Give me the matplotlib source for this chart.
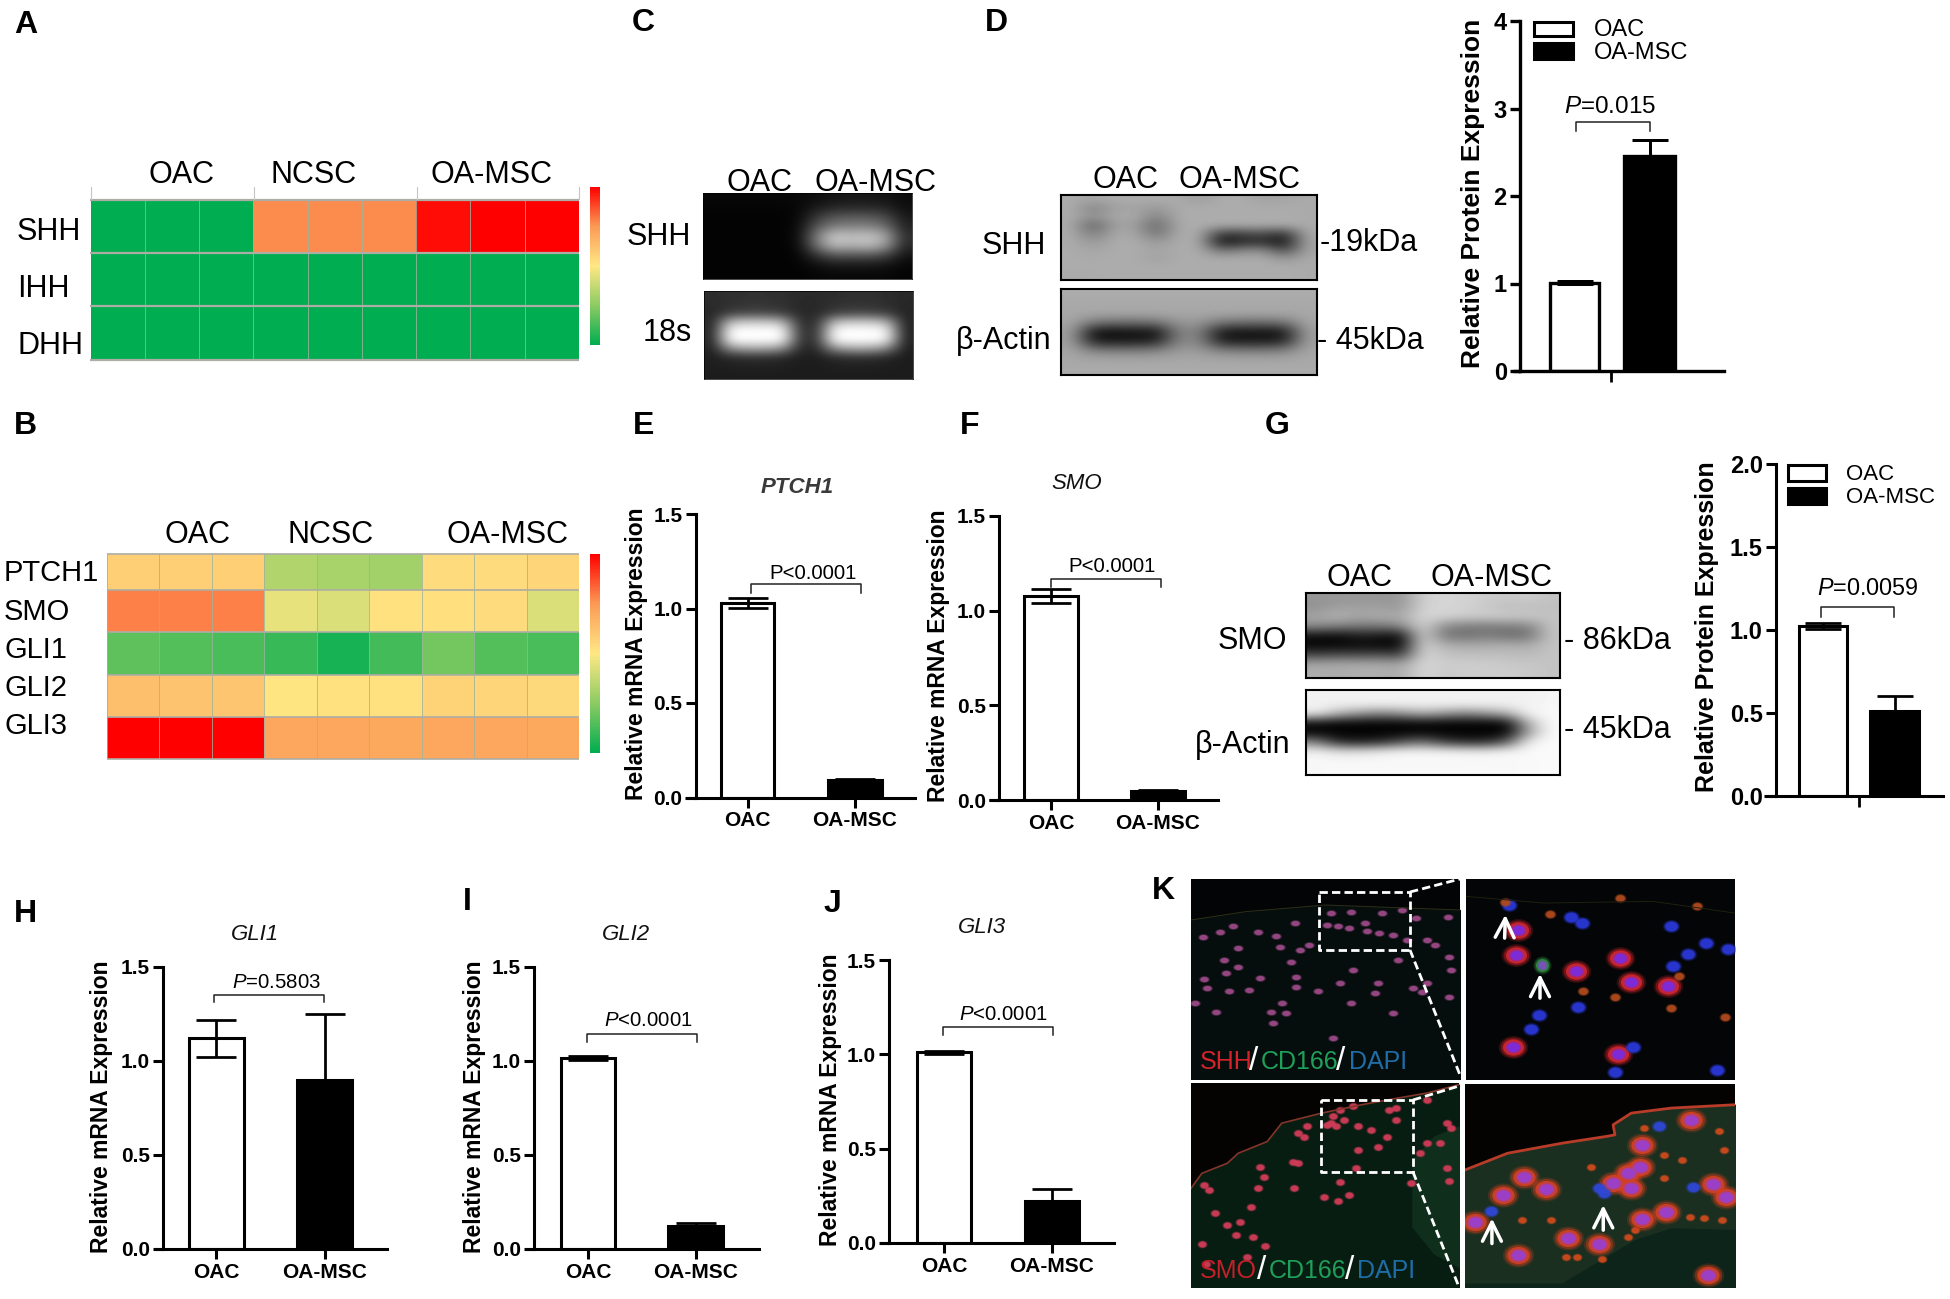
import numpy as np
import matplotlib
matplotlib.use("Agg")
import matplotlib.pyplot as plt
from matplotlib.colors import LinearSegmentedColormap
from matplotlib.markers import MarkerStyle
from matplotlib.transforms import Affine2D

plt.rcParams['font.family'] = ['Liberation Sans', 'DejaVu Sans']
plt.rcParams['mathtext.fontset'] = 'custom'
plt.rcParams['mathtext.it'] = 'Liberation Sans:italic'
plt.rcParams['mathtext.rm'] = 'Liberation Sans'

W = 1950
H = 1299

# ---- heatmaps
groups = ["OAC", "NCSC", "OA-MSC"]
genes_a = ["SHH", "IHH", "DHH"]
heat_a = [[0, 0, 0, 0.77, 0.77, 0.77, 0.98, 1, 1],
          [0, 0, 0, 0, 0, 0, 0, 0, 0],
          [0, 0, 0, 0, 0, 0, 0, 0, 0]]
genes_b = ["PTCH1", "SMO", "GLI1", "GLI2", "GLI3"]
heat_b = [[.58, .58, .58, .33, .31, .30, .54, .54, .56],
          [.79, .79, .79, .45, .42, .52, .53, .54, .42],
          [.17, .15, .13, .10, .04, .12, .21, .15, .13],
          [.63, .62, .61, .51, .52, .52, .57, .56, .55],
          [1, 1, 1, .71, .71, .70, .71, .71, .70]]

# ---- bar charts (OAC, OA-MSC)
vals_d = [1.01, 2.46]
errs_d = [0.02, 0.18]
vals_e = [1.03, 0.093]
errs_e = [0.027, 0.003]
vals_f = [1.077, 0.048]
errs_f = [0.035, 0.004]
vals_g = [1.024, 0.514]
errs_g = [0.02, 0.09]
vals_h = [1.12, 0.899]
errs_h = [0.10, 0.353]
vals_i = [1.017, 0.12]
errs_i = [0.012, 0.018]
vals_j = [1.01, 0.221]
errs_j = [0.006, 0.064]
bar_names = ["OAC", "OA-MSC"]

gel_c_shh = [[8, 8, 8, 8, 8, 8, 14, 20, 22, 22, 20, 12],
             [5, 5, 5, 5, 5, 8, 25, 38, 40, 40, 35, 15],
             [3, 3, 3, 3, 3, 8, 55, 85, 90, 90, 75, 25],
             [3, 3, 3, 3, 3, 10, 85, 125, 130, 130, 110, 35],
             [3, 3, 3, 3, 3, 12, 120, 205, 190, 200, 170, 45],
             [3, 3, 3, 3, 3, 10, 110, 190, 175, 190, 155, 40],
             [3, 3, 3, 3, 3, 6, 50, 85, 85, 85, 70, 20],
             [3, 3, 3, 3, 3, 4, 15, 25, 25, 25, 20, 8],
             [3, 3, 3, 3, 3, 3, 6, 8, 8, 8, 8, 4]]
gel_c_18s = [[45, 48, 50, 50, 48, 42, 42, 45, 48, 48, 45, 40],
             [42, 48, 52, 52, 48, 40, 40, 48, 50, 50, 46, 38],
             [38, 62, 70, 70, 62, 40, 40, 62, 70, 70, 60, 36],
             [36, 190, 200, 200, 185, 45, 45, 190, 200, 200, 180, 34],
             [34, 255, 255, 255, 255, 50, 50, 255, 255, 255, 250, 32],
             [34, 255, 255, 255, 255, 50, 50, 255, 255, 255, 250, 32],
             [32, 150, 170, 170, 150, 40, 40, 150, 170, 170, 140, 30],
             [30, 42, 48, 48, 42, 30, 30, 42, 48, 48, 40, 28],
             [30, 32, 34, 34, 32, 28, 28, 32, 32, 32, 30, 28],
             [28, 28, 28, 28, 28, 28, 28, 28, 28, 28, 28, 28]]
gel_d_shh = [[172, 165, 172, 172, 172, 172, 155, 172, 172, 160, 165, 170],
             [172, 130, 160, 165, 150, 172, 172, 172, 172, 172, 172, 170],
             [172, 145, 170, 170, 130, 172, 172, 172, 172, 172, 172, 170],
             [172, 95, 160, 160, 100, 172, 172, 172, 172, 172, 172, 170],
             [172, 120, 168, 168, 110, 172, 172, 60, 70, 80, 50, 170],
             [172, 150, 172, 172, 150, 172, 172, 15, 40, 45, 15, 165],
             [172, 165, 172, 172, 165, 172, 172, 110, 135, 140, 70, 165],
             [172, 170, 172, 172, 160, 172, 172, 172, 172, 172, 150, 170],
             [172, 172, 172, 172, 172, 172, 172, 172, 172, 172, 172, 170],
             [170, 170, 172, 172, 172, 172, 172, 172, 172, 172, 172, 170]]
gel_d_act = [[172, 172, 172, 172, 172, 172, 172, 172, 172, 172, 172, 172],
             [168, 168, 168, 168, 168, 168, 168, 168, 168, 168, 168, 168],
             [168, 168, 168, 168, 168, 168, 168, 168, 168, 168, 168, 168],
             [165, 120, 110, 110, 115, 150, 150, 118, 110, 110, 115, 165],
             [160, 15, 10, 15, 15, 130, 130, 20, 15, 15, 20, 160],
             [160, 35, 30, 30, 40, 135, 135, 35, 30, 30, 40, 160],
             [165, 135, 130, 130, 135, 155, 155, 135, 130, 130, 135, 165],
             [168, 168, 168, 168, 168, 168, 168, 168, 168, 168, 168, 168],
             [170, 170, 170, 170, 170, 170, 170, 170, 170, 170, 170, 170]]
gel_g_smo = [[150, 150, 150, 150, 150, 205, 215, 210, 205, 200, 205, 195],
             [145, 160, 160, 160, 150, 210, 215, 210, 200, 190, 190, 190],
             [165, 180, 165, 175, 170, 215, 210, 205, 205, 205, 200, 195],
             [140, 130, 120, 120, 135, 215, 140, 125, 120, 125, 130, 195],
             [15, 10, 30, 25, 10, 215, 120, 110, 125, 110, 110, 195],
             [5, 5, 10, 5, 5, 215, 175, 170, 170, 175, 170, 195],
             [65, 70, 70, 75, 60, 215, 195, 190, 190, 190, 185, 195],
             [165, 170, 170, 170, 165, 215, 205, 205, 205, 200, 200, 195],
             [175, 170, 175, 175, 170, 215, 200, 205, 205, 205, 200, 195]]
gel_g_act = [[240, 240, 240, 240, 240, 240, 240, 240, 240, 240, 240, 245],
             [242, 242, 242, 242, 242, 242, 242, 242, 242, 242, 242, 245],
             [235, 180, 150, 130, 145, 170, 150, 130, 150, 175, 245, 248],
             [10, 3, 3, 3, 3, 5, 3, 3, 3, 3, 180, 250],
             [5, 3, 3, 3, 3, 8, 3, 3, 3, 3, 160, 250],
             [130, 40, 30, 40, 80, 110, 60, 40, 40, 90, 240, 250],
             [240, 225, 225, 235, 245, 245, 245, 240, 240, 245, 250, 250],
             [248, 248, 248, 248, 248, 248, 248, 248, 248, 248, 248, 250],
             [246, 248, 248, 248, 248, 248, 248, 248, 248, 248, 248, 250]]

# ---- fluorescence cells
cells_tl_x = [145, 110, 62, 215, 265, 315, 160, 275, 330, 355, 120, 160, 305, 125, 220, 320, 65, 135, 320, 380, 475,
              545, 440, 405, 435, 465, 510, 515, 548, 415, 470, 555, 610, 737, 650, 585, 625, 680, 700, 600, 740, 745,
              680, 640, 665, 740, 535, 280, 250, 290, 255, 100, 40, 585, 420, 190, 75, 470]
cells_tl_y = [198, 215, 232, 215, 228, 190, 265, 262, 270, 255, 300, 320, 305, 340, 355, 352, 358, 393, 380, 393, 330,
              370, 370, 195, 198, 205, 190, 212, 218, 160, 155, 158, 150, 170, 175, 225, 240, 240, 255, 300, 290, 330,
              370, 385, 395, 410, 400, 430, 455, 460, 490, 455, 430, 458, 535, 390, 385, 430]
cells_bl_x = [220, 230, 215, 65, 80, 325, 350, 340, 310, 325, 415, 430, 440, 475, 575, 595, 595, 490, 525, 570, 545,
              490, 680, 735, 745, 680, 715, 660, 735, 740, 635, 485, 440, 315, 395, 435, 465, 195, 165, 130, 60, 235,
              200, 95, 155, 185, 70, 420, 405, 450]
cells_bl_y = [920, 950, 985, 975, 990, 820, 800, 830, 905, 910, 790, 800, 750, 740, 750, 745, 780, 800, 810, 830, 862,
              870, 720, 790, 805, 850, 850, 880, 925, 963, 968, 925, 965, 985, 1010, 1022, 1005, 1042, 1085, 1095,
              1150, 1158, 1130, 1060, 1125, 1190, 1210, 770, 795, 780]
tr_big_x = [930, 925, 1210, 1090, 1240, 1340, 915, 1205]
tr_big_y = [212, 285, 295, 335, 365, 378, 560, 582]
tr_blue_x = [1105, 1075, 1350, 1445, 1505, 1395, 1355, 1095, 988, 965, 1245, 1195, 1475, 905]
tr_blue_y = [190, 172, 200, 250, 268, 282, 318, 440, 465, 508, 562, 635, 630, 135]
tr_small_x = [1107, 1018, 1370, 1497, 895, 1420, 1210, 1350, 1195]
tr_small_y = [393, 162, 350, 470, 128, 140, 115, 445, 410]
br_big_x = [945, 1005, 888, 1270, 1405, 1265, 1230, 1465, 1190, 1240, 1500, 1065, 1270, 1335, 1150, 930, 1450, 810]
br_big_y = [950, 988, 1005, 855, 782, 920, 938, 972, 968, 985, 1010, 1133, 1077, 1055, 1150, 1185, 1245, 1085]
br_small_x = [1275, 1330, 1480, 1495, 1330, 1020, 940, 1380, 1090, 1160, 1230, 1250, 1440, 1490, 1400, 1060, 1130]
br_small_y = [805, 885, 815, 870, 955, 1080, 1080, 900, 1190, 1195, 1130, 1110, 1075, 1080, 1070, 1190, 920]
br_blue_x = [855, 1150, 1165, 1410, 1315]
br_blue_y = [1052, 985, 1000, 980, 800]

# tissue outlines
edge_bl_x = [30, 60, 130, 160, 240, 280, 390, 500, 600, 680, 768]
edge_bl_y = [985, 940, 910, 880, 845, 790, 760, 735, 715, 700, 675]
edge_br_x = [783, 900, 1050, 1170, 1195, 1190, 1240, 1350, 1525]
edge_br_y = [930, 880, 850, 830, 825, 795, 760, 745, 735]
low_br_x = [783, 1050, 1250, 1350, 1525]
low_br_y = [1270, 1270, 1140, 1105, 1110]

fig = plt.figure(figsize=(W / 100, H / 100), dpi=100, facecolor='white')


def box(x0, y0, x1, y1):
    return fig.add_axes([x0 / W, 1 - y1 / H, (x1 - x0) / W, (y1 - y0) / H])


# everything that is plain text goes on this one, in pixels
top = fig.add_axes([0, 0, 1, 1], zorder=10)
top.set_xlim(0, W)
top.set_ylim(H, 0)
top.axis('off')
top.patch.set_alpha(0)


def txt(x, y, s, size=22, ha='center', **kw):
    off = 2.5 if size >= 20 else 1
    top.text(x, y + off, s, fontsize=size, ha=ha, va='center', **kw)


for letter, lx, ly in [("A", 14, 22), ("B", 14, 423), ("C", 632, 20), ("D", 985, 20), ("E", 633, 423), ("F", 960, 423),
                       ("G", 1265, 423), ("H", 14, 911), ("I", 463, 899), ("J", 824, 901), ("K", 1152, 888)]:
    txt(lx, ly, letter, size=23, ha='left', fontweight='bold')

hm_cmap = LinearSegmentedColormap.from_list("hm", ['#00AD50', '#8CCB62', '#FFE884', '#FB9A55', '#FF0000'])


def heatmap(x0, x1, row_edges, data, cb, hlw):
    ax = box(x0, row_edges[0], x1, row_edges[-1])
    xe = np.linspace(x0, x1, 10)
    m = ax.pcolormesh(xe, row_edges, np.array(data), cmap=hm_cmap, vmin=0, vmax=1)
    ax.vlines(xe, row_edges[0], row_edges[-1], color='#9DB39D', lw=0.7, alpha=0.8)
    ax.set_ylim(row_edges[-1], row_edges[0])
    ax.hlines(row_edges, x0, x1, color='#ADADA5', lw=hlw, clip_on=False)
    ax.axis('off')
    cax = box(*cb)
    c = fig.colorbar(m, cax=cax)
    c.set_ticks([])
    c.outline.set_visible(False)
    return ax


heatmap(90.5, 579, [199.5, 253, 306, 360], heat_a, (590, 187, 600, 345), 1.6)
heatmap(107, 579, [554, 590, 632, 675, 717, 759], heat_b, (590, 554, 600, 753), 1.2)
for gx in [90.5, 254, 416.6, 579]:
    top.plot([gx, gx], [187, 199], color='#C5C5C5', lw=0.8)
for name, gx in zip(groups, [181, 314, 491]):
    txt(gx, 172, name)
for name, gx in zip(groups, [198, 331, 507]):
    txt(gx, 532, name)
for name, gy in zip(genes_a, [229, 286, 343]):
    txt(17, gy, name, ha='left')
for name, gy in zip(genes_b, [570, 609, 647, 685, 723]):
    txt(4, gy, name, size=21, ha='left')


def gel(x0, y0, x1, y1, grid, lw=1.5):
    ax = box(x0, y0, x1, y1)
    ax.imshow(np.array(grid), cmap='gray', vmin=0, vmax=255, aspect='auto', interpolation='bicubic')
    ax.set_xticks([])
    ax.set_yticks([])
    for s in ax.spines.values():
        s.set_linewidth(lw)
    return ax


gel(703, 193, 912, 279, gel_c_shh, 0.5)
gel(704, 291, 913, 379, gel_c_18s, 0.5)
gel(1061, 195, 1317, 280, gel_d_shh)
gel(1061, 289, 1317, 375, gel_d_act)
gel(1306, 593, 1560, 678, gel_g_smo)
gel(1306, 690, 1560, 775, gel_g_act)

txt(760, 180, "OAC")
txt(875, 180, "OA-MSC")
txt(659, 234, "SHH")
txt(667, 330, "18s")
txt(1125, 177, "OAC")
txt(1239, 177, "OA-MSC")
txt(1046, 243, "SHH", ha='right')
txt(1052, 338, "β-Actin", ha='right')
txt(1320, 240, "-19kDa", ha='left')
txt(1317, 338, "- 45kDa", ha='left')
txt(1360, 575, "OAC")
txt(1491, 575, "OA-MSC")
txt(1252, 638, "SMO")
txt(1243, 742, "β-Actin")
txt(1564, 638, "- 86kDa", ha='left')
txt(1564, 727, "- 45kDa", ha='left')


def bars(rect, xleft, ymax, yticks, fmt, vals, errs, lefts, rights, lw=2.2, ticksize=15):
    # rect is spine x, top, right end, baseline in pixels
    x0, y0, x1, y1 = rect
    ax = box(x0, y0, x1, y1)
    ax.patch.set_alpha(0)
    ax.set_xlim(x0, x1)
    ax.set_ylim(0, ymax)
    cs = [(a + b) / 2 for a, b in zip(lefts, rights)]
    ws = [b - a for a, b in zip(lefts, rights)]
    ax.bar(cs, vals, width=ws, color=['white', 'black'], edgecolor='black', linewidth=lw)
    ax.errorbar(cs, vals, yerr=errs, fmt='none', ecolor='black', elinewidth=lw * 0.9, capsize=ws[0] * 0.27,
                capthick=lw * 0.9)
    for s in ['top', 'right']:
        ax.spines[s].set_visible(False)
    for s in ['left', 'bottom']:
        ax.spines[s].set_linewidth(lw)
    ax.set_yticks(yticks)
    ax.set_yticklabels([fmt % t for t in yticks], fontsize=ticksize, fontweight='bold')
    ax.tick_params(axis='y', width=lw, length=7.5, pad=2)
    top.plot([xleft, x0], [y1, y1], color='black', lw=lw, solid_capstyle='butt')
    return ax, cs


def bracket(x0, x1, y0, y1, label, tx, ty, size=14.7):
    top.plot([x0, x0, x1, x1], [y1, y0, y0, y1], color='#222222', lw=1.1)
    txt(tx, ty, label, size=size)


def ylab(x, y, s, size=16.5):
    top.text(x + 3, y, s, fontsize=size, fontweight='bold', rotation=90, ha='center', va='center')


def cat_ticks(ax, cs, size=15, length=7.5, lw=2.2):
    ax.set_xticks(cs)
    ax.set_xticklabels(bar_names, fontsize=size, fontweight='bold')
    ax.tick_params(axis='x', width=lw, length=length, pad=2.5)


# D
ax, cs = bars((1520, 21, 1724, 371), 1513, 4, [0, 1, 2, 3, 4], '%d', vals_d, errs_d, [1550, 1624], [1599, 1675],
              lw=2.4, ticksize=17)
ax.set_xticks([1611])
ax.set_xticklabels([])
ax.tick_params(axis='x', width=2, length=8)
ylab(1470, 193, "Relative Protein Expression", 19)
bracket(1576, 1650, 122, 131, r"$\mathit{P}$=0.015", 1610, 106, 17.5)

# G
ax, cs = bars((1776, 464, 1943, 796), 1764, 2, [0, 0.5, 1, 1.5, 2], '%.1f', vals_g, errs_g, [1799, 1870], [1847, 1919],
              lw=2.2, ticksize=17)
ax.set_xticks([1858.5])
ax.set_xticklabels([])
ax.tick_params(axis='x', width=2, length=8)
ylab(1704, 627, "Relative Protein Expression", 18)
bracket(1821, 1894, 607, 617, r"$\mathit{P}$=0.0059", 1868, 587, 16.8)

# legends of D and G
for sx0, sx1, ya, yb, tx, ty0, ty1, size in [(1534, 1573, (22, 36), (43, 59), 1594, 29, 52, 17),
                                             (1788, 1826, (465, 481), (488, 504), 1846, 473, 496, 16)]:
    top.fill([sx0, sx1, sx1, sx0], [ya[0], ya[0], ya[1], ya[1]], facecolor='white', edgecolor='black', lw=2.2)
    top.fill([sx0, sx1, sx1, sx0], [yb[0], yb[0], yb[1], yb[1]], facecolor='black', edgecolor='black', lw=2.2)
    txt(tx, ty0, "OAC", size=size, ha='left')
    txt(tx, ty1, "OA-MSC", size=size, ha='left')

ticks15 = [0, 0.5, 1, 1.5]

# E
ax, cs = bars((695.5, 514, 915, 797.5), 685, 1.5, ticks15, '%.1f', vals_e, errs_e, [721, 828], [774, 882], lw=2.2)
cat_ticks(ax, cs)
ylab(633, 654, "Relative mRNA Expression")
txt(797.5, 486, "PTCH1", size=16, style='italic', fontweight='bold', color='#3A3A3A')
bracket(750.6, 861, 584, 593, "P<0.0001", 813, 572)

# F
ax, cs = bars((999, 516, 1218, 800), 988.5, 1.5, ticks15, '%.1f', vals_f, errs_f, [1024, 1131], [1078, 1185], lw=2.2)
cat_ticks(ax, cs)
ylab(936, 656, "Relative mRNA Expression")
txt(1077, 482, "SMO", size=16, style='italic', color='#111111')
bracket(1050.6, 1161, 579, 587, "P<0.0001", 1112, 565)

# H
ax, cs = bars((163, 967, 387, 1249), 154, 1.5, ticks15, '%.1f', vals_h, errs_h, [189, 297], [243.5, 352], lw=2.2)
cat_ticks(ax, cs)
ylab(99, 1107, "Relative mRNA Expression")
txt(255, 933, "GLI1", size=16, style='italic', color='#111111')
bracket(214, 324, 995, 1002, r"$\mathit{P}$=0.5803", 276, 981)

# I
ax, cs = bars((534, 967, 759, 1249), 525, 1.5, ticks15, '%.1f', vals_i, errs_i, [561, 668], [615, 723], lw=2.2)
cat_ticks(ax, cs)
ylab(471, 1107, "Relative mRNA Expression")
txt(626, 933, "GLI2", size=16, style='italic', color='#111111')
bracket(587, 697, 1034, 1042, r"$\mathit{P}$<0.0001", 648, 1020)

# J
ax, cs = bars((889, 960, 1114, 1243), 880, 1.5, ticks15, '%.1f', vals_j, errs_j, [917, 1025], [971, 1079], lw=2.2)
cat_ticks(ax, cs)
ylab(827, 1100, "Relative mRNA Expression")
txt(982, 926, "GLI3", size=16, style='italic', color='#111111')
bracket(943, 1053, 1027, 1035, r"$\mathit{P}$<0.0001", 1003, 1013)


# ---- panel K, axes limits follow the coordinates the cells were read in
def micro(rect, xl, yl, bg):
    ax = box(*rect)
    ax.set_xlim(*xl)
    ax.set_ylim(*yl)
    ax.set_facecolor(bg)
    ax.set_xticks([])
    ax.set_yticks([])
    for s in ax.spines.values():
        s.set_visible(False)
    return ax


def soft(ax, xs, ys, size, col, oval=1.3):
    # three layers so the cells do not look like hard discs
    m = MarkerStyle('o', transform=Affine2D().scale(oval, 1))
    for k, al in [(1.6, 0.2), (1.2, 0.4), (0.8, 0.9)]:
        ax.scatter(xs, ys, s=size * k, color=col, alpha=al, marker=m, linewidths=0)


tl = micro((1191, 879, 1460, 1079), (30, 770), (657, 57), '#020405')
tl.fill_between([30, 180, 400, 770], [180, 155, 135, 150], [657, 657, 657, 657], color='#060E0D')
tl.plot([30, 180, 400, 770], [180, 155, 135, 150], color='#2E2E18', lw=0.7)
soft(tl, cells_tl_x, cells_tl_y, 16, '#9C4A88', 1.6)

tr = micro((1466, 879, 1735, 1080), (787, 1525), (660, 58), '#030506')
tr.plot([787, 1000, 1300, 1525], [110, 130, 125, 160], color='#20200E', lw=0.7)
soft(tr, tr_big_x, tr_big_y, 170, '#D4262C')
soft(tr, tr_big_x, tr_big_y, 55, '#7A2BE0')
soft(tr, tr_blue_x, tr_blue_y, 60, '#2A38D8')
soft(tr, tr_small_x, tr_small_y, 30, '#B04A1E')
soft(tr, [995], [315], 110, '#2E8A40', 1)
soft(tr, [995], [315], 40, '#7A50C0', 1)

bl = micro((1191, 1083, 1459, 1287), (30, 768), (1280, 670), '#040302')
bl.fill_between(edge_bl_x, edge_bl_y, 1280, color='#081D12')
bl.plot(edge_bl_x, edge_bl_y, color='#84352A', lw=1.2)
bl.fill_between([640, 700, 768], [900, 830, 800], [1100, 1180, 1220], color='#0F2E1B')
soft(bl, cells_bl_x, cells_bl_y, 22, '#D03C58')

br = micro((1465, 1084, 1735, 1287), (783, 1525), (1280, 673), '#040302')
br.fill_between(edge_br_x, edge_br_y, 1280, color='#1A2F20')
br.fill_between(low_br_x, low_br_y, 1280, color='#0C2419')
br.plot(edge_br_x, edge_br_y, color='#B83C28', lw=2)
soft(br, br_small_x, br_small_y, 22, '#CC4A1C')
soft(br, br_big_x, br_big_y, 190, '#D6401E')
soft(br, br_big_x, br_big_y, 65, '#9A40D0')
soft(br, br_blue_x, br_blue_y, 50, '#3048D8')

for a, tipx, tipy, tailx, taily in [(tr, 895, 165, 893, 235), (tr, 990, 342, 990, 415),
                                    (br, 1163, 1035, 1163, 1110), (br, 857, 1075, 857, 1150)]:
    a.annotate("", xy=(tipx, tipy), xytext=(tailx, taily),
               arrowprops=dict(arrowstyle='->', color='white', lw=2.5, mutation_scale=34, shrinkA=0, shrinkB=0))

for a, parts, ty in [(tl, [("SHH", 55, '#D4232B'), ("/", 190, 'white'), ("CD166", 222, '#1FA05A'), ("/", 430, 'white'),
                           ("DAPI", 465, '#1F6DA8')], 605),
                     (bl, [("SMO", 55, '#C4202B'), ("/", 213, 'white'), ("CD166", 243, '#1FA05A'), ("/", 455, 'white'),
                           ("DAPI", 487, '#1F6DA8')], 1232)]:
    for s, px, col in parts:
        size = 24 if s == "/" else 18
        a.text(px, ty, s, color=col, fontsize=size, ha='left', va='center')

# zoom boxes and the lines leading to the enlargements
dash = dict(color='white', lw=2, ls=(0, (3, 1.5)))
top.plot([1319, 1410, 1410, 1319, 1319], [892, 892, 950, 950, 892], **dash)
top.plot([1410, 1460], [892, 879], **dash)
top.plot([1410, 1460], [950, 1075], **dash)
top.plot([1321, 1413, 1413, 1321, 1321], [1100, 1100, 1172, 1172, 1100], **dash)
top.plot([1413, 1459], [1100, 1086], **dash)
top.plot([1413, 1459], [1172, 1287], **dash)

fig.savefig("out.png", dpi=100, facecolor='white')
